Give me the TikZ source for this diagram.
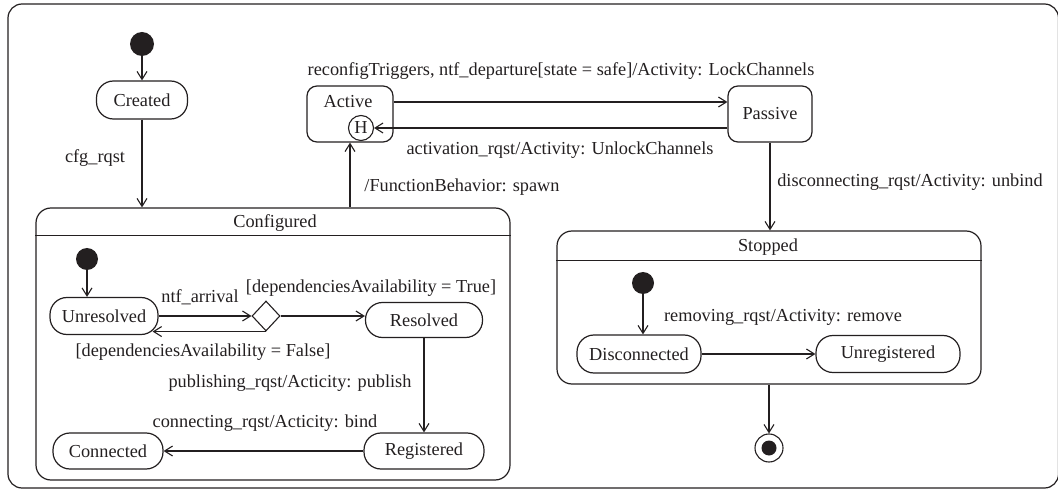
\documentclass[tikz,border=0pt]{standalone}
\usepackage{fontspec}
\setmainfont{Liberation Serif}
\usetikzlibrary{arrows.meta,shapes.geometric,calc}
\definecolor{ink}{HTML}{231F20}
\tikzset{
  every node/.style={font=\fontsize{18.3}{21}\selectfont, text=ink},
  lbl/.style={inner sep=0pt},
  stadium/.style={draw=ink, line width=1.2pt, rounded corners=17pt, inner sep=0pt, minimum width=#1, minimum height=37pt},
  sbox/.style={draw=ink, line width=1.2pt, rounded corners=10pt, inner sep=0pt},
  comp/.style={draw=ink, line width=1.2pt, rounded corners=15pt, inner sep=0pt},
  initdot/.style={circle, fill=ink, inner sep=0pt, minimum size=#1},
  arr/.style={draw=ink, line width=1.1pt, -{Straight Barb[length=8pt,width=10pt,line width=1.1pt]}},
}
\begin{document}
\begin{tikzpicture}[x=1pt,y=-1pt]
\useasboundingbox (0,0) rectangle (1058,489);
% outer frame
\draw[draw=ink, line width=1.2pt, rounded corners=14pt] (8,4) rectangle (1058.5,488);

% top level
\node[initdot=24pt] (i1) at (142,44) {};
\node[stadium=91pt, minimum height=38pt] (created) at (142,100) {Created};
\node[lbl] (lcfg) at (95,158) {cfg\_rqst};

\node[sbox, minimum width=86pt, minimum height=56pt] (active) at (350,114) {};
\node[lbl] (activelbl) at (348,102) {Active};
\node[circle, draw=ink, line width=1.1pt, inner sep=0pt, minimum size=25pt] (hist) at (361,128) {H};
\node[sbox, minimum width=84pt, minimum height=56pt] (passive) at (770,114) {Passive};

\node[lbl] (lreconf) at (561,71) {reconfigTriggers, ntf\_departure[state = safe]/Activity: LockChannels};
\node[lbl] (lactiv) at (560,150) {activation\_rqst/Activity: UnlockChannels};
\node[lbl] (lspawn) at (462,187) {/FunctionBehavior: spawn};
\node[lbl] (ldisc) at (910,182) {disconnecting\_rqst/Activity: unbind};

% Configured composite
\node[comp, minimum width=474pt, minimum height=272pt] (conf) at (273,344) {};
\draw[draw=ink, line width=1.1pt] ([yshift=-28pt]conf.north west) -- ([yshift=-28pt]conf.north east);
\node[lbl] (conftitle) at (275,223) {Configured};

\node[initdot=22pt] (i2) at (87,259) {};
\node[stadium=108pt] (unres) at (104,316) {Unresolved};
\node[diamond, draw=ink, line width=1.1pt, inner sep=0pt, minimum width=28pt, minimum height=30pt] (dia) at (266,316) {};
\node[stadium=117pt, minimum height=35pt] (res) at (424,320) {Resolved};
\node[stadium=120pt, minimum height=36pt] (reg) at (424,451) {Registered};
\node[stadium=110pt, minimum height=36pt] (conn) at (108,451) {Connected};

\node[lbl] (lntf) at (200,297) {ntf\_arrival};
\node[lbl] (ltrue) at (371,288) {[dependenciesAvailability = True]};
\node[lbl] (lfalse) at (203,352) {[dependenciesAvailability = False]};
\node[lbl] (lpub) at (290,383) {publishing\_rqst/Acticity: publish};
\node[lbl] (lbind) at (265,423) {connecting\_rqst/Acticity: bind};

% Stopped composite
\node[comp, minimum width=424pt, minimum height=153pt] (stopped) at (769,307.5) {};
\draw[draw=ink, line width=1.1pt] ([yshift=-30pt]stopped.north west) -- ([yshift=-30pt]stopped.north east);
\node[lbl] (stoptitle) at (768,247) {Stopped};

\node[initdot=22pt] (i3) at (643,283) {};
\node[stadium=124pt, minimum height=38pt] (disc) at (639,354) {Disconnected};
\node[stadium=144pt] (unreg) at (888,354) {Unregistered};
\node[lbl] (lremove) at (783,317) {removing\_rqst/Activity: remove};

\node[circle, draw=ink, line width=1.1pt, inner sep=0pt, minimum size=28pt] (final) at (769,448) {};
\fill[ink] (final.center) circle (7.5pt);

% connectors
\draw[arr] (i1) -- (created);
\draw[arr] (created.south) -- (created.south |- conf.north);
\draw[arr] (conf.north -| active.south) -- (active.south);
\draw[arr] ([yshift=12pt]active.east) -- ([yshift=12pt]passive.west);
\draw[arr] (passive.west |- hist.east) -- (hist.east);
\draw[arr] (passive.south) -- (passive.south |- stopped.north);
\draw[arr] (stopped.south -| final.north) -- (final.north);

\draw[arr] (i2) -- (i2 |- unres.north);
\draw[arr] (unres.east) -- (dia.west);
\draw[arr] (dia.east) -- (dia.east -| res.west);
\draw[arr] (dia.south) -- ($(dia.south -| unres.east)+(-6,0)$);
\draw[arr] (res.south) -- (reg.north);
\draw[arr] (reg.west) -- (conn.east);

\draw[arr] (i3) -- (i3 |- disc.north);
\draw[arr] (disc.east) -- (unreg.west);
\end{tikzpicture}
\end{document}
